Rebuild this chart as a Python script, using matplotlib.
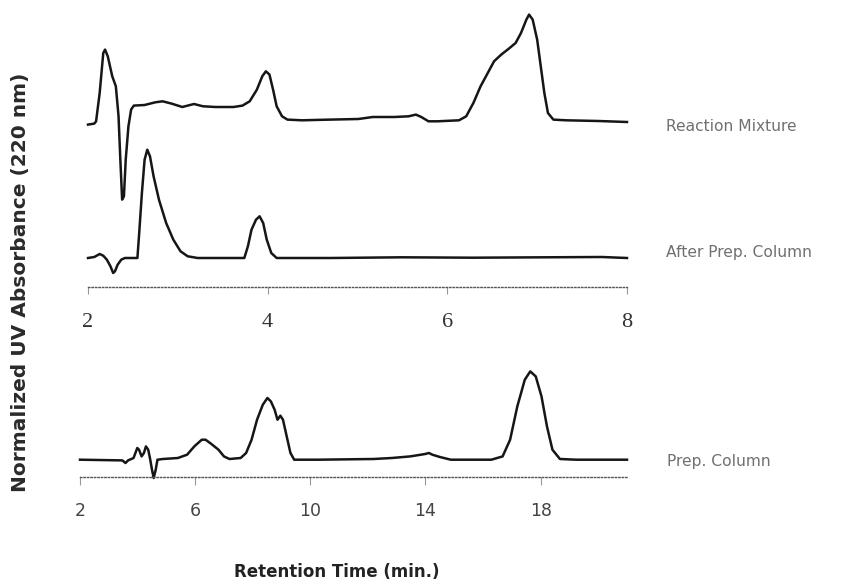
import matplotlib
matplotlib.use('Agg')
import matplotlib.pyplot as plt

# Reaction Mixture trace (retention time in min, normalized absorbance above baseline)
rm_time = [2.00, 2.07, 2.09, 2.13, 2.17, 2.19, 2.22, 2.27, 2.31, 2.34, 2.36, 2.38, 2.40,
           2.42, 2.45, 2.48, 2.51, 2.63, 2.75, 2.83, 2.93, 3.05, 3.11, 3.18, 3.28, 3.42,
           3.62, 3.72, 3.80, 3.88, 3.94, 3.98, 4.02, 4.06, 4.10, 4.16, 4.22, 4.38, 4.70,
           5.01, 5.17, 5.41, 5.57, 5.65, 5.71, 5.79, 5.89, 6.13, 6.21, 6.29, 6.37, 6.45,
           6.52, 6.60, 6.68, 6.76, 6.82, 6.88, 6.91, 6.95, 7.00, 7.04, 7.08, 7.12, 7.18,
           7.32, 7.68, 8.00]
rm_signal = [-3.3, -2.3, 0, 28.3, 68.3, 71.7, 65, 45, 35, 5, -38.3, -78.3, -75,
             -38.3, -5, 11.7, 15.7, 16.3, 19, 20, 17.7, 14.3, 15.7, 17.3, 15, 14.3,
             14.3, 15.7, 20, 31.7, 45, 50, 46.7, 31.7, 15, 5, 1.7, 1, 1.7,
             2.3, 4.3, 4.3, 5, 6.7, 4.3, 0, 0, 1, 5, 18.3, 35, 48.3,
             60, 66.7, 72.3, 78.3, 88.3, 101.7, 106.7, 101.7, 81.7, 55, 28.3, 8.3, 1.7,
             1, 0.3, -0.7]

# After Prep. Column trace
apc_time = [2.00, 2.07, 2.13, 2.17, 2.21, 2.25, 2.28, 2.30, 2.33, 2.37, 2.41, 2.55, 2.57,
            2.60, 2.63, 2.66, 2.69, 2.73, 2.79, 2.87, 2.95, 3.03, 3.11, 3.22, 3.74, 3.78,
            3.82, 3.87, 3.91, 3.95, 3.99, 4.04, 4.10, 4.70, 5.49, 6.29, 7.08, 7.72, 8.00]
apc_signal = [0, 1, 4, 2.3, -1.7, -8.3, -15, -13.3, -6.7, -1.7, 0, 0, 25,
              65, 98.3, 108.3, 101.7, 81.7, 58.3, 35, 18.3, 6.7, 1.7, 0, 0, 11.7,
              28.3, 38.3, 41.7, 35, 18.3, 5, 0, 0, 0.7, 0.3, 0.7, 1, 0]

# Prep. Column trace
pc_time = [2.00, 3.47, 3.58, 3.67, 3.86, 3.99, 4.05, 4.14, 4.22, 4.29, 4.37, 4.44, 4.50,
           4.56, 4.63, 4.69, 4.88, 5.40, 5.72, 5.97, 6.23, 6.36, 6.55, 6.81, 7.00, 7.19,
           7.58, 7.77, 7.96, 8.15, 8.35, 8.51, 8.63, 8.76, 8.86, 8.96, 9.05, 9.18, 9.31,
           9.44, 10.27, 12.19, 12.83, 13.47, 13.99, 14.12, 14.24, 14.50, 14.88, 16.29,
           16.68, 16.94, 17.19, 17.45, 17.64, 17.83, 18.03, 18.22, 18.41, 18.67, 19.24, 21.0]
pc_signal = [0, -0.7, -3.3, -0.7, 1.7, 11.7, 10, 3.3, 6.7, 13.3, 10, 0, -10,
             -18.3, -10, 0, 0.7, 1.7, 5, 13.3, 20, 20, 16, 10, 3.3, 0.7,
             1.7, 6.7, 20, 40, 55, 61.7, 58.3, 50, 40, 44, 40, 23.3, 6.7,
             0, 0, 0.7, 1.7, 3.3, 5.7, 6.7, 5, 2.7, 0, 0,
             3.3, 20, 53.3, 80, 88.3, 83.3, 63.3, 33.3, 10, 0.7, 0, 0]

top_ticks = [2, 4, 6, 8]
bottom_ticks = [2, 6, 10, 14, 18]
trace_labels = ['Reaction Mixture', 'After Prep. Column', 'Prep. Column']

fig = plt.figure(figsize=(8.5, 5.87), dpi=100)

ax_top = fig.add_axes([88 / 850, 300 / 587, 539 / 850, 287 / 587])
ax_bot = fig.add_axes([80 / 850, 110 / 587, 547 / 850, 117 / 587])

rm_off = 165.7
apc_off = 29.0
pc_off = 17.3

line_kw = dict(color='#161616', lw=1.8, clip_on=False, solid_joinstyle='round')
ax_top.plot(rm_time, [v + rm_off for v in rm_signal], **line_kw)
ax_top.plot(apc_time, [v + apc_off for v in apc_signal], **line_kw)
ax_bot.plot(pc_time, [v + pc_off for v in pc_signal], **line_kw)

ax_top.set_xlim(2, 8)
ax_top.set_ylim(0, 287)
ax_bot.set_xlim(2, 21)
ax_bot.set_ylim(0, 117)

for ax, ticks in [(ax_top, top_ticks), (ax_bot, bottom_ticks)]:
    for s in ['top', 'right', 'left']:
        ax.spines[s].set_visible(False)
    ax.spines['bottom'].set_linestyle((0, (1, 1.5)))
    ax.spines['bottom'].set_color('#555555')
    ax.spines['bottom'].set_linewidth(1.0)
    ax.set_yticks([])
    ax.set_xticks(ticks)
    ax.patch.set_alpha(0)

ax_top.tick_params(axis='x', direction='out', length=5, width=0.8, color='#999999',
                   pad=14, labelsize=16, labelcolor='#333333',
                   labelfontfamily='Liberation Serif')
ax_bot.tick_params(axis='x', direction='out', length=6, width=0.8, color='#999999',
                   pad=12, labelsize=12.5, labelcolor='#444444')

lab_kw = dict(textcoords='offset points', va='center', ha='left', fontsize=11.2,
              color='#707070')
ax_top.annotate(trace_labels[0], xy=(1, rm_off), xycoords=('axes fraction', 'data'),
                xytext=(28, -4), **lab_kw)
ax_top.annotate(trace_labels[1], xy=(1, apc_off), xycoords=('axes fraction', 'data'),
                xytext=(28, 4), **lab_kw)
ax_bot.annotate(trace_labels[2], xy=(1, pc_off), xycoords=('axes fraction', 'data'),
                xytext=(29, -1), **lab_kw)

fig.text(21 / 850, 1 - 282 / 587, 'Normalized UV Absorbance (220 nm)', rotation=90,
         va='center', ha='center', fontsize=14.5, fontweight='bold', color='#2a2a2a')
fig.text(337 / 850, 1 - 572 / 587, 'Retention Time (min.)', va='center', ha='center',
         fontsize=12, fontweight='bold', color='#222222')

fig.savefig('out.png', dpi=100)
